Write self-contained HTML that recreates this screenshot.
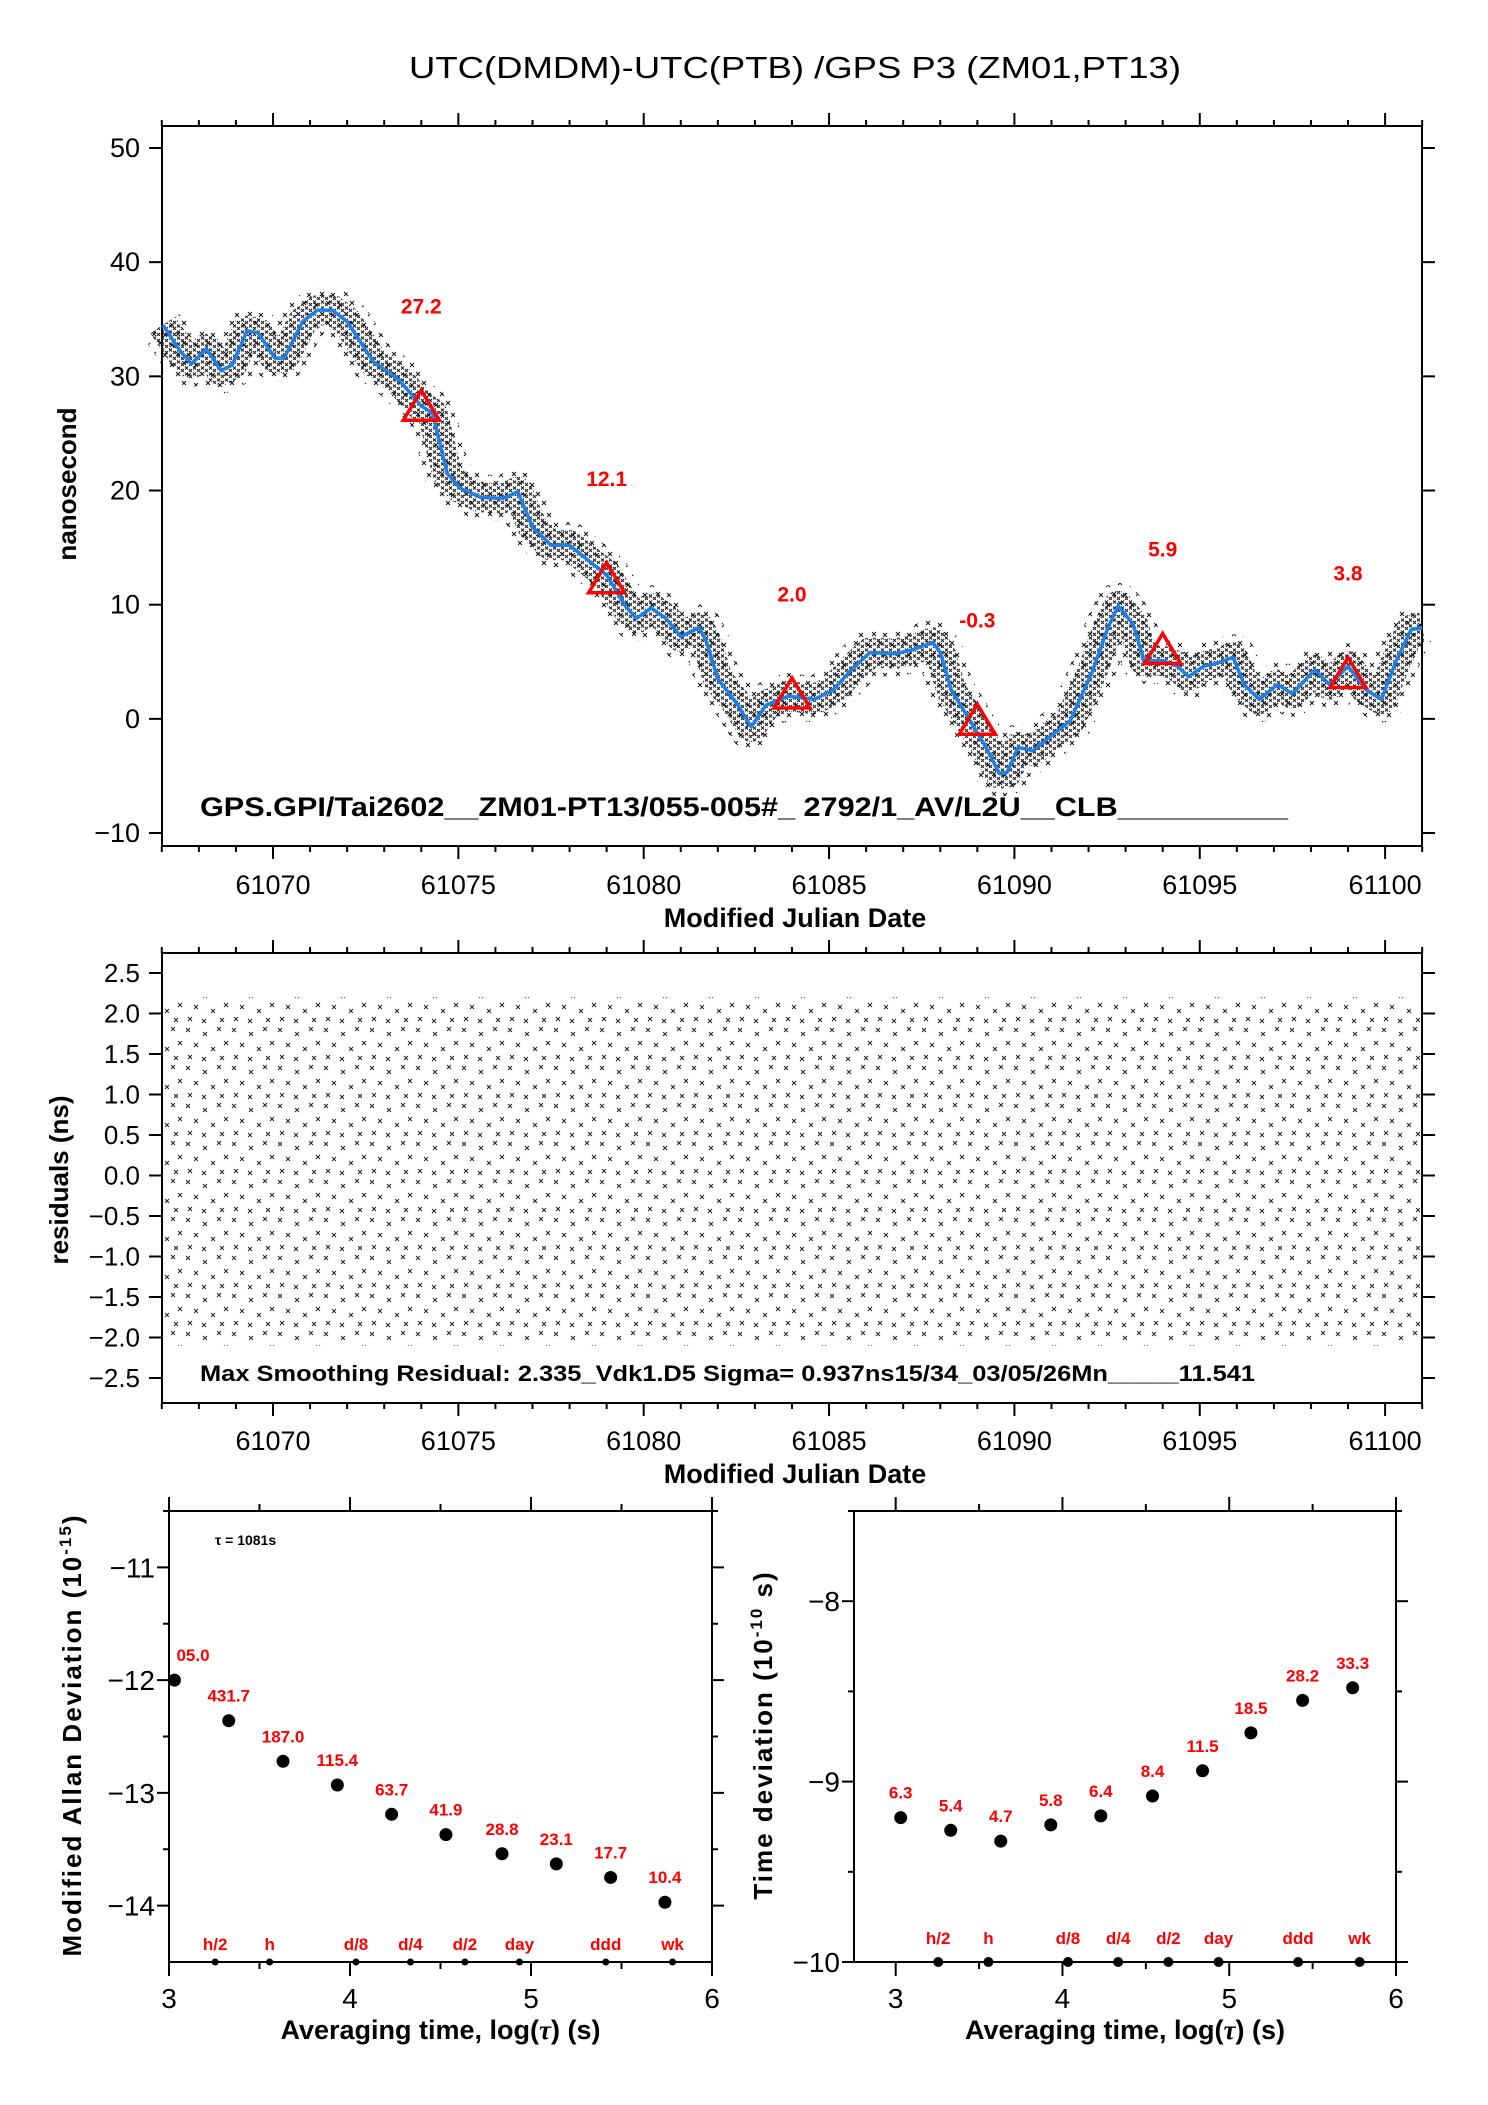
<!DOCTYPE html>
<html><head><meta charset="utf-8"><style>
html,body{margin:0;padding:0;background:#fff}
svg{display:block}
text{font-family:"Liberation Sans",sans-serif}
</style></head><body>
<svg id="chart" xmlns="http://www.w3.org/2000/svg" width="1488" height="2105" viewBox="0 0 1488 2105">
<defs>
<pattern id="xpat" patternUnits="userSpaceOnUse" width="24" height="20">
<path d="M2 3l4 4M6 3l-4 4M14 1l4 4M18 1l-4 4M8 12l4 4M12 12l-4 4M19 13l4 4M23 13l-4 4" stroke="#111" stroke-width="1"/>
</pattern>
<pattern id="xdense" patternUnits="userSpaceOnUse" width="8" height="6">
<path d="M1 0.5l3 3M4 0.5l-3 3M5 3l3 3M8 3l-3 3" stroke="#1a1a1a" stroke-width="1"/>
</pattern>
<pattern id="xres" patternUnits="userSpaceOnUse" width="46" height="38">
<path d="M2 2l4 4M6 2l-4 4M19 6l4 4M23 6l-4 4M33 1l4 4M37 1l-4 4M10 17l4 4M14 17l-4 4M27 21l4 4M31 21l-4 4M40 15l4 4M44 15l-4 4M4 29l4 4M8 29l-4 4M18 31l4 4M22 31l-4 4M36 30l4 4M40 30l-4 4" stroke="#222" stroke-width="1"/>
</pattern>
</defs>
<g id="gTop"></g>
<g id="gMid"></g>
<g id="gAdev"></g>
<g id="gTdev"></g>
</svg>
<script>
// ---- top plot data ----
const curveMJD = [61067.03,61067.5,61067.8,61068.2,61068.6,61068.9,61069.3,61069.6,61070.05,61070.3,61070.8,61071.2,61071.6,61072.0,61072.7,61073.4,61074.0,61074.3,61074.7,61075.05,61075.6,61076.2,61076.6,61077.0,61077.5,61078.0,61078.5,61079.0,61079.5,61079.8,61080.2,61080.6,61081.0,61081.5,61081.7,61082.0,61082.5,61082.9,61083.3,61083.9,61084.6,61085.1,61085.6,61086.1,61086.8,61087.3,61087.8,61088.0,61088.3,61088.7,61089.2,61089.6,61089.8,61090.1,61090.5,61090.9,61091.5,61092.1,61092.5,61092.8,61093.2,61093.5,61094.0,61094.4,61094.7,61095.1,61095.5,61095.9,61096.2,61096.6,61097.1,61097.5,61098.1,61098.5,61099.0,61099.5,61099.9,61100.3,61100.7,61101.0];
const curveNs = [34.5,32.2,31.1,32.4,30.5,31,34,33.8,31.6,31.6,34.8,35.8,35.8,34.8,31.3,29.7,27.4,26.8,21.5,20.2,19.4,19.3,19.9,16.8,15.2,15.2,13.9,12.6,9.9,8.8,9.7,8.8,7.2,8.0,6.7,3.5,1.4,-0.7,1.2,2.0,1.7,2.5,4.3,5.8,5.7,6.1,6.7,5.8,2.5,0.4,-2.3,-4.8,-4.7,-2.5,-2.8,-1.7,-0.2,4.1,7.8,9.9,8.3,5.1,5.1,4.6,3.7,4.6,4.9,5.4,3.0,1.7,3.0,2.2,4.3,3.0,4.6,2.5,1.7,5.1,7.8,8.0];
const markMJD = [61074,61079,61084,61089,61094,61099];
const markNs = [27.2,12.1,2.0,-0.3,5.9,3.8];
const markLabels = ["27.2","12.1","2.0","-0.3","5.9","3.8"];
const mjdTicks = [61070,61075,61080,61085,61090,61095,61100];
const nsTicks = [50,40,30,20,10,0,-10];
const resTicks = [2.5,2.0,1.5,1.0,0.5,0.0,-0.5,-1.0,-1.5,-2.0,-2.5];
// ---- stability data ----
const adevLogTau = [3.03,3.33,3.63,3.93,4.23,4.53,4.84,5.14,5.44,5.74];
const adevVal = [-12.0,-12.36,-12.72,-12.93,-13.19,-13.37,-13.54,-13.63,-13.75,-13.97];
const adevLabels = ["05.0","431.7","187.0","115.4","63.7","41.9","28.8","23.1","17.7","10.4"];
const tdevLogTau = [3.03,3.33,3.63,3.93,4.23,4.54,4.84,5.13,5.44,5.74];
const tdevVal = [-9.20,-9.27,-9.33,-9.24,-9.19,-9.08,-8.94,-8.73,-8.55,-8.48];
const tdevLabels = ["6.3","5.4","4.7","5.8","6.4","8.4","11.5","18.5","28.2","33.3"];
const refLogTau = [3.255,3.556,4.033,4.334,4.635,4.936,5.413,5.782];
const refLabels = ["h/2","h","d/8","d/4","d/2","day","ddd","wk"];

(function(){
const NS="http://www.w3.org/2000/svg";
function mk(parent,tag,attrs,txt){const e=document.createElementNS(NS,tag);for(const k in attrs)e.setAttribute(k,attrs[k]);if(txt!==undefined)e.textContent=txt;parent.appendChild(e);return e;}

const X0=162,X1=1422;
const xT=d=>273+(d-61070)*37.07;
const yT=v=>148+(50-v)*11.417;
const yM=v=>973+(2.5-v)*81;

function frame(g,x0,y0,x1,y1){
  const r=mk(g,'rect',{x:x0,y:y0,width:x1-x0,height:y1-y0,fill:'none',stroke:'#000','stroke-width':2});
  
  
}
function mjdAxis(g,yb,yt,lblY){
  for(let d=61067;d<=61101;d++){
    const x=xT(d);const maj=d%5===0;const L=maj?13:6;
    mk(g,'line',{x1:x,x2:x,y1:yb,y2:yb+L,stroke:'#000','stroke-width':2});
    mk(g,'line',{x1:x,x2:x,y1:yt,y2:yt-L,stroke:'#000','stroke-width':2});
  }
  mjdTicks.forEach(t=>{const e=mk(g,'text',{x:xT(t),y:lblY,'font-size':27,'text-anchor':'middle'},String(t));
    
    });
  const xl=mk(g,'text',{x:795,y:lblY+33,'font-size':27,'font-weight':'bold','text-anchor':'middle'},'Modified Julian Date');
  
  
}

// ---- TOP ----
const gT=document.getElementById('gTop');
const tt=mk(gT,'text',{x:795,y:78,'font-size':31,'text-anchor':'middle',textLength:772,lengthAdjust:'spacingAndGlyphs'},'UTC(DMDM)-UTC(PTB)  /GPS  P3  (ZM01,PT13)');


frame(gT,X0,126,X1,846);
nsTicks.forEach(v=>{const y=yT(v);
  mk(gT,'line',{x1:X0-13,x2:X0,y1:y,y2:y,stroke:'#000','stroke-width':2});
  mk(gT,'line',{x1:X1,x2:X1+13,y1:y,y2:y,stroke:'#000','stroke-width':2});
  const e=mk(gT,'text',{x:140,y:y+9,'font-size':27,'text-anchor':'end'},v<0?'\u2212'+(-v):String(v));
  
  });
mjdAxis(gT,846,126,894);
const yl=mk(gT,'text',{x:0,y:0,'font-size':26,'font-weight':'bold','text-anchor':'middle',transform:'translate(76,484) rotate(-90)'},'nanosecond');


const pts=curveMJD.map((d,i)=>xT(d).toFixed(1)+','+yT(curveNs[i]).toFixed(1)).join(' ');
const clipG=mk(gT,'g',{});


const band=mk(clipG,'polyline',{points:pts,fill:'none',stroke:'url(#xpat)','stroke-width':46,'stroke-linejoin':'round'});


const band2=mk(clipG,'polyline',{points:pts,fill:'none',stroke:'url(#xdense)','stroke-width':30,'stroke-linejoin':'round'});


const ln=mk(gT,'polyline',{points:pts,fill:'none',stroke:'#1e7fe6','stroke-width':3.5,'stroke-linejoin':'round'});


markMJD.forEach((d,i)=>{const x=xT(d),y=yT(markNs[i]);
  const t=mk(gT,'polygon',{points:`${x-18},${y+12} ${x+18},${y+12} ${x},${y-18}`,fill:'none',stroke:'#ff0000','stroke-width':3.5});
  
  
  const l=mk(gT,'text',{x:x,y:yT(markNs[i]+9)+8,'font-size':21,'font-weight':'bold',fill:'#ff0000','text-anchor':'middle'},markLabels[i]);
  
  });
const info=mk(gT,'text',{x:200,y:816,'font-size':27,'font-weight':'bold',textLength:1088,lengthAdjust:'spacingAndGlyphs'},'GPS.GPI/Tai2602__ZM01-PT13/055-005#_  2792/1_AV/L2U__CLB__________');



// ---- MIDDLE ----
const gM=document.getElementById('gMid');
const tex=mk(gM,'rect',{x:X0+2,y:yM(2.2),width:X1-X0-4,height:yM(-2.1)-yM(2.2),fill:'url(#xres)'});


frame(gM,X0,953,X1,1403);
resTicks.forEach(v=>{const y=yM(v);
  mk(gM,'line',{x1:X0-13,x2:X0,y1:y,y2:y,stroke:'#000','stroke-width':2});
  mk(gM,'line',{x1:X1,x2:X1+13,y1:y,y2:y,stroke:'#000','stroke-width':2});
  const e=mk(gM,'text',{x:140,y:y+9,'font-size':26,'text-anchor':'end'},(v<0?'\u2212':'')+Math.abs(v).toFixed(1));
  
  });
mjdAxis(gM,1403,953,1450);
const yl2=mk(gM,'text',{x:0,y:0,'font-size':26,'font-weight':'bold','text-anchor':'middle',transform:'translate(68,1180) rotate(-90)'},'residuals (ns)');


const info2=mk(gM,'text',{x:200,y:1381,'font-size':22,'font-weight':'bold',textLength:1055,lengthAdjust:'spacingAndGlyphs'},'Max Smoothing Residual: 2.335_Vdk1.D5  Sigma= 0.937ns15/34_03/05/26Mn_____11.541');



// ---- stability plots ----
function stab(g,x0,x1,xmin,xmax,ymin,ymax,yticks,xs,ys,labs,opt,tx){
  const yTop=1511,yBot=1962;
  const sx=v=>x0+(v-xmin)/(xmax-xmin)*(x1-x0);
  const sy=v=>yBot-(v-ymin)/(ymax-ymin)*(yBot-yTop);
  frame(g,x0,yTop,x1,yBot);
  for(let v=3;v<=6.001;v+=0.5){const x=sx(v);const maj=Math.abs(v-Math.round(v))<1e-6;const L=maj?14:7;
    mk(g,'line',{x1:x,x2:x,y1:yBot,y2:yBot+L,stroke:'#000','stroke-width':2});
    mk(g,'line',{x1:x,x2:x,y1:yTop,y2:yTop-L,stroke:'#000','stroke-width':2});
    if(maj){const e=mk(g,'text',{x:x,y:2008,'font-size':28,'text-anchor':'middle'},String(Math.round(v)));
      
      }}
  yticks.forEach(v=>{const y=sy(v);const maj=Math.abs(v-Math.round(v))<1e-6;const L=maj?12:6;
    mk(g,'line',{x1:x0-L,x2:x0,y1:y,y2:y,stroke:'#000','stroke-width':2});
    mk(g,'line',{x1:x1,x2:x1+L,y1:y,y2:y,stroke:'#000','stroke-width':2});
    if(maj){const e=mk(g,'text',{x:x0-14,y:y+10,'font-size':28,'text-anchor':'end'},'\u2212'+Math.abs(v));
      
      }});
  xs.forEach((v,i)=>{const c=mk(g,'circle',{cx:sx(v),cy:sy(ys[i]),r:6.5,fill:'#000'});
    
    
    const l=mk(g,'text',{x:Math.max(sx(v),x0+(labs[i].length*6)),y:sy(ys[i])-19,'font-size':17,'font-weight':'bold',fill:'#ff0000','text-anchor':'middle'},labs[i]);
    
    });
  refLogTau.forEach((v,i)=>{const c=mk(g,'circle',{cx:sx(v),cy:yBot,r:opt.big?5:3.5,fill:'#000'});
    
    
    const l=mk(g,'text',{x:sx(v),y:opt.ly,'font-size':17,'font-weight':'bold',fill:'#ff0000','text-anchor':'middle'},refLabels[i]);
    
    });
  const xl=mk(g,'text',{x:(x0+x1)/2,y:2039,'font-size':27,'font-weight':'bold','text-anchor':'middle'});
  mk(xl,'tspan',{},'Averaging time, log(');
  mk(xl,'tspan',{'font-family':'Liberation Serif','font-style':'italic'},'τ');
  mk(xl,'tspan',{},') (s)');
  
  
  const yl=mk(g,'text',{x:0,y:0,'font-size':26,'font-weight':'bold','text-anchor':'middle','letter-spacing':'2',transform:`translate(${tx},1735) rotate(-90)`});
  mk(yl,'tspan',{},opt.a);
  mk(yl,'tspan',{dy:-10,'font-size':17},opt.exp);
  mk(yl,'tspan',{dy:10},opt.b);
  
  
}
const adevTicks=[-10.5,-11,-11.5,-12,-12.5,-13,-13.5,-14];
const tdevTicks=[-7.5,-8,-8.5,-9,-9.5,-10];
const gA=document.getElementById('gAdev');
stab(gA,169,712,3,6,-14.5,-10.5,adevTicks,adevLogTau,adevVal,adevLabels,
  {a:'Modified Allan Deviation (10',exp:'-15',b:')',ly:1950},81);
const tau=mk(gA,'text',{x:215,y:1545,'font-size':14,'font-weight':'bold'},'τ = 1081s');


const gD=document.getElementById('gTdev');
stab(gD,854,1396,2.75,6.0,-10,-7.5,tdevTicks,tdevLogTau,tdevVal,tdevLabels,
  {a:'Time deviation (10',exp:'-10',b:' s)',ly:1944,big:true},772);
})();
</script>
</body></html>
